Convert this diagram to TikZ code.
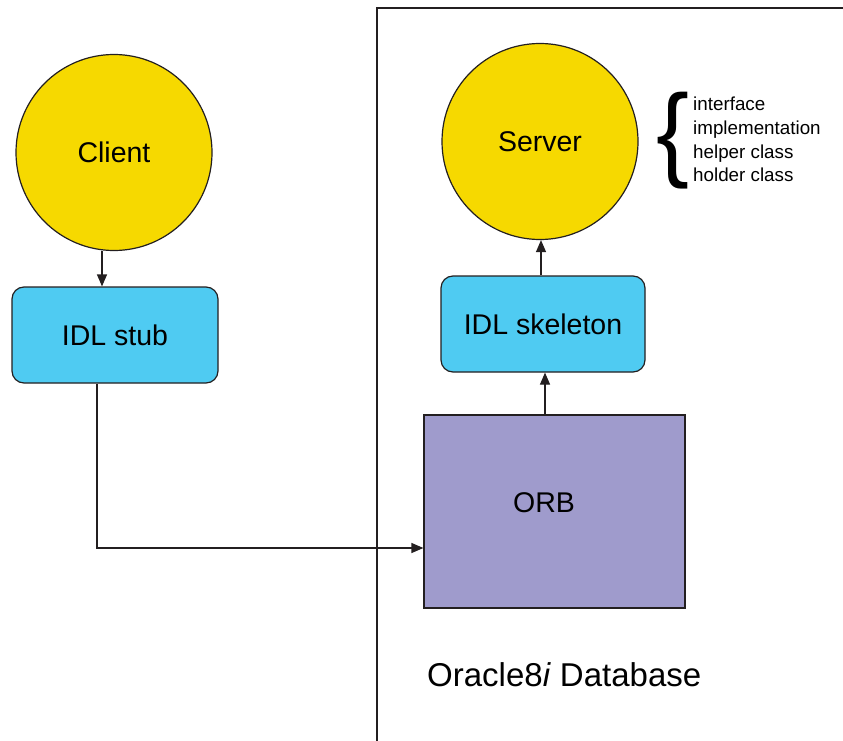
\documentclass[tikz,border=0pt]{standalone}
\usepackage{fontspec}
\setmainfont{Liberation Sans}
\usetikzlibrary{arrows.meta}
\definecolor{sunyellow}{HTML}{F6D900}
\definecolor{skyblue}{HTML}{4FCBF2}
\definecolor{lavender}{HTML}{9F9BCC}
\definecolor{inkgray}{HTML}{231F20}
\tikzset{
  x=1pt, y=-1pt,
  bigtext/.style={font=\fontsize{28.5}{32}\selectfont},
  objcircle/.style={circle, draw=inkgray, line width=1.2pt, fill=sunyellow,
    minimum size=196pt, inner sep=0pt, bigtext},
  idlbox/.style={rectangle, rounded corners=12pt, draw=inkgray, line width=1.2pt,
    fill=skyblue, inner sep=0pt, bigtext},
  orbbox/.style={rectangle, draw=inkgray, line width=1.2pt, fill=lavender,
    inner sep=0pt},
  flow/.style={draw=inkgray, line width=1.2pt, -{Triangle[length=12pt,width=10pt]}},
  wall/.style={draw=inkgray, line width=1.5pt},
}
\begin{document}
\begin{tikzpicture}
\useasboundingbox (0,0) rectangle (843,741);

% database boundary
\coordinate (dbtop) at (377,8);
\coordinate (dbright) at (843,8);
\coordinate (dbbottom) at (377,741);
\draw[wall] (dbbottom) -- (dbtop) -- (dbright);

% client side
\node[objcircle] (client) at (114,152.5) {Client};
\node[idlbox, minimum width=206pt, minimum height=96pt] (stub) at (115,335) {IDL stub};

% server side
\node[objcircle] (server) at (540,141.5) {Server};
\node[idlbox, minimum width=204pt, minimum height=96pt] (skel) at (543,324) {IDL skeleton};
\node[orbbox, minimum width=261pt, minimum height=193pt] (orb) at (554.5,511.5) {};
\node[bigtext] (orblabel) at (544,503) {ORB};

% generated classes
\node[anchor=center, inner sep=0pt, xscale=0.95,
  font=\fontsize{104}{104}\selectfont] (brace) at (673,141) {\{};
\node[anchor=north west, align=left, inner sep=0pt,
  font=\fontsize{18.8}{23.7}\selectfont] (classes) at (693,97)
  {interface\\implementation\\helper class\\holder class};

\node[anchor=base west, inner sep=0pt, font=\fontsize{33}{38}\selectfont] (dblabel) at (427,686)
  {Oracle8\textit{i} Database};

% connectors
\draw[flow] (client.south -| 102,0) -- (stub.north -| 102,0);
\coordinate (bend) at (97,548);
\draw[flow] (stub.south -| bend) -- (bend) -- (orb.west |- bend);
\draw[flow] (orb.north -| 545,0) -- (skel.south -| 545,0);
\draw[flow] (skel.north -| 541,0) -- (server.south -| 541,0);
\end{tikzpicture}
\end{document}
